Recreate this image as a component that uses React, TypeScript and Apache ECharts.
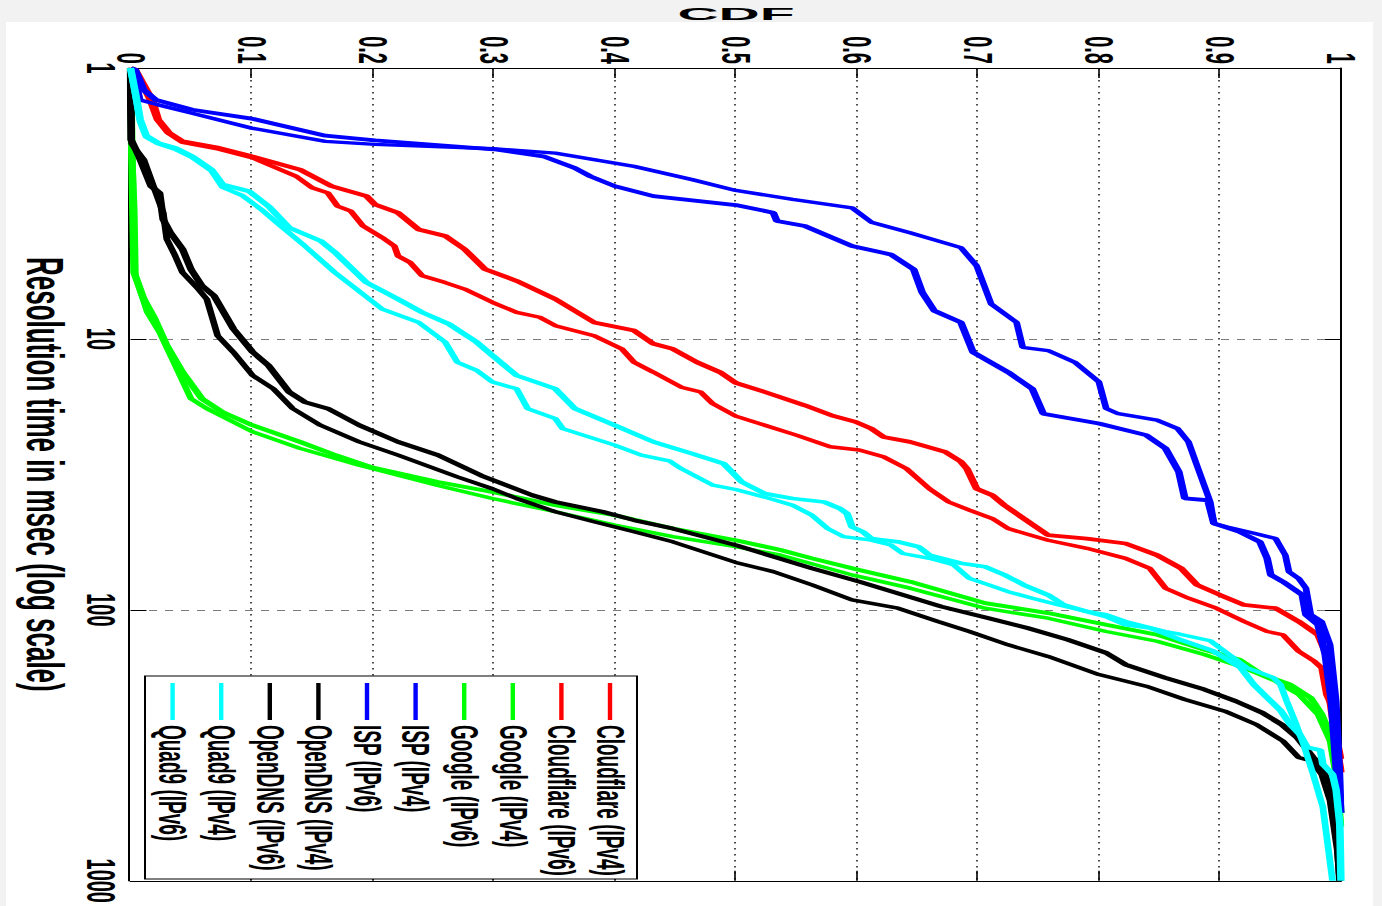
import React, { useEffect, useRef } from 'react';
import * as echarts from 'echarts';

// ---------- data (x = resolution time in msec, y = CDF) ----------
const seriesNames = [
  'Cloudflare (IPv4)', 'Cloudflare (IPv6)', 'Google (IPv4)', 'Google (IPv6)',
  'ISP (IPv4)', 'ISP (IPv6)', 'OpenDNS (IPv4)', 'OpenDNS (IPv6)', 'Quad9 (IPv4)', 'Quad9 (IPv6)',
];
const seriesColors = [
  '#ff0000', '#ff0000', '#00ff00', '#00ff00', '#0000ff', '#0000ff', '#000000', '#000000', '#00ffff', '#00ffff',
];
const timeTickLabels = ['1', '10', '100', '1000'];
const cdfTickLabels = ['0', '0.1', '0.2', '0.3', '0.4', '0.5', '0.6', '0.7', '0.8', '0.9', '1'];
const xTitle = 'Resolution time in msec (log scale)';
const yTitle = 'CDF';

const cloudflareV4 = [[1,0],[1.016,0.004],[1.312,0.018],[1.552,0.023],[1.738,0.032],[1.866,0.043],[1.972,0.073],[2.118,0.1],[2.371,0.14],[2.729,0.166],[2.972,0.195],[3.192,0.202],[3.42,0.221],[3.945,0.238],[4.169,0.26],[4.667,0.276],[5.534,0.293],[6.109,0.319],[7.129,0.351],[8.69,0.383],[9.311,0.416],[10.42,0.432],[10.89,0.448],[12.19,0.468],[13.27,0.487],[14.52,0.5],[15.7,0.524],[17.58,0.557],[19.14,0.579],[20.23,0.599],[21.43,0.612],[23.01,0.622],[23.99,0.644],[26.12,0.673],[28.38,0.686],[30.13,0.691],[35.73,0.699],[37.76,0.712],[41.11,0.722],[46.03,0.738],[49.43,0.748],[52.97,0.758],[54.58,0.79],[56.89,0.822],[62.81,0.848],[70.31,0.868],[80.91,0.881],[88.1,0.9],[95.94,0.92],[98.63,0.946],[110.4,0.965],[123.6,0.981],[146.2,0.988],[217.3,0.991],[331.9,0.997],[398,1]];
const cloudflareV6 = [[1,0],[1.023,0.004],[1.312,0.016],[1.552,0.022],[1.738,0.031],[1.884,0.043],[1.995,0.073],[2.148,0.101],[2.512,0.137],[2.767,0.15],[2.891,0.163],[3.236,0.171],[3.373,0.182],[3.828,0.192],[4.227,0.208],[4.539,0.218],[4.943,0.221],[5.224,0.231],[5.848,0.241],[6.194,0.26],[6.546,0.276],[7.328,0.299],[7.98,0.319],[8.318,0.338],[8.933,0.351],[9.727,0.383],[10.89,0.406],[12.19,0.416],[13.27,0.432],[15.07,0.455],[15.7,0.471],[17.34,0.481],[19.28,0.5],[22.65,0.55],[25,0.578],[25.7,0.602],[27.23,0.622],[30.13,0.641],[35.73,0.66],[40,0.676],[42.85,0.693],[46.03,0.712],[50.12,0.725],[55.34,0.758],[59.29,0.79],[64.57,0.822],[70.31,0.842],[83.18,0.855],[90.57,0.874],[98.63,0.897],[110.4,0.92],[120.2,0.939],[123.6,0.952],[142.2,0.965],[154.9,0.978],[163.7,0.984],[205.6,0.988],[230.1,0.993],[288.4,0.996],[354.8,1]];
const googleV4 = [[1,0],[1.905,0.001],[3.311,0.002],[5.689,0.003],[7.129,0.011],[8.433,0.02],[10.59,0.03],[13.27,0.043],[16.63,0.059],[18.62,0.076],[20.84,0.101],[23.99,0.14],[26.92,0.17],[29.85,0.2],[33.73,0.254],[36.73,0.299],[41.11,0.351],[44.77,0.4],[50.12,0.448],[55.34,0.5],[60.12,0.537],[64.57,0.563],[71.29,0.602],[78.7,0.644],[94.41,0.706],[102.8,0.758],[113.5,0.806],[123.6,0.848],[140.3,0.887],[152.8,0.916],[173.4,0.935],[188.8,0.958],[211.3,0.975],[243.2,0.984],[288.4,0.991],[381.9,0.996],[562.3,1]];
const googleV6 = [[1,0],[1.995,0.001],[3.327,0.003],[5.848,0.004],[7.98,0.014],[9.441,0.024],[12.53,0.037],[16.63,0.05],[18.07,0.063],[22.03,0.101],[25.35,0.14],[29.24,0.189],[34.75,0.254],[38.82,0.299],[43.45,0.351],[48.64,0.4],[53.7,0.448],[58.48,0.5],[62.81,0.537],[74.3,0.596],[83.18,0.644],[98.63,0.706],[107.4,0.758],[120.2,0.806],[130.6,0.848],[146.2,0.887],[163.7,0.92],[183.2,0.946],[205.1,0.965],[243.2,0.981],[304.8,0.991],[439.5,0.997],[631,1]];
const ispV4 = [[1,0],[1.016,0.004],[1.205,0.011],[1.312,0.021],[1.426,0.051],[1.538,0.1],[1.778,0.161],[1.849,0.202],[1.995,0.3],[2.118,0.341],[2.339,0.367],[2.512,0.38],[2.729,0.4],[2.972,0.432],[3.206,0.5],[3.42,0.531],[3.673,0.534],[3.828,0.557],[4.539,0.596],[4.875,0.628],[5.534,0.647],[6.73,0.654],[7.87,0.664],[8.69,0.686],[11.19,0.696],[13.27,0.725],[15.28,0.745],[18.88,0.754],[20.51,0.8],[22.65,0.839],[25.35,0.855],[30.9,0.866],[38.8,0.871],[39.4,0.89],[48,0.895],[51.5,0.916],[56.1,0.933],[64.6,0.939],[74.3,0.942],[78.7,0.952],[88.1,0.968],[104.2,0.971],[113.5,0.981],[146.2,0.987],[217.3,0.992],[382,0.996],[501,0.999],[562,1]];
const ispV6 = [[1,0],[1.148,0.005],[1.312,0.008],[1.368,0.023],[1.469,0.051],[1.667,0.1],[1.866,0.161],[1.914,0.202],[1.986,0.3],[2.061,0.351],[2.307,0.416],[2.582,0.464],[2.831,0.5],[3.055,0.547],[3.281,0.596],[3.707,0.612],[4.055,0.644],[4.603,0.686],[5.37,0.699],[7.43,0.711],[8.69,0.732],[10.74,0.737],[11.04,0.758],[12.19,0.78],[14.42,0.8],[18.07,0.806],[18.88,0.816],[19.95,0.848],[21.43,0.865],[23.99,0.874],[30.13,0.882],[40,0.892],[47.97,0.895],[49.43,0.906],[52.24,0.929],[54.58,0.946],[62.81,0.954],[72.28,0.957],[76.56,0.965],[83.18,0.971],[104.2,0.975],[110.4,0.984],[134.6,0.991],[217.3,0.996],[398,0.999],[537,1]];
const opendnsV4 = [[1,0],[1.841,0.0005],[2.118,0.007],[2.729,0.017],[2.891,0.024],[3.622,0.027],[4.055,0.033],[4.667,0.043],[5.534,0.05],[6.368,0.059],[6.934,0.069],[9.183,0.085],[11.19,0.101],[12.53,0.114],[15.7,0.131],[17.1,0.144],[18.07,0.163],[20.84,0.189],[23.99,0.221],[26.85,0.254],[31.99,0.29],[37.76,0.332],[39.99,0.351],[43.45,0.39],[46.67,0.416],[50.12,0.448],[57.68,0.5],[63.68,0.531],[70.31,0.563],[78.7,0.602],[86.9,0.634],[97.27,0.67],[107.4,0.709],[116.7,0.741],[128.8,0.774],[144.2,0.806],[159.2,0.822],[178.2,0.855],[196.8,0.887],[217.3,0.913],[239.9,0.935],[264.9,0.951],[296.5,0.964],[350.8,0.977],[381.9,0.984],[452.9,0.991],[583.4,0.996],[1000,0.999]];
const opendnsV6 = [[1,0],[1.905,0.001],[2.178,0.011],[2.812,0.02],[3.42,0.027],[4.285,0.03],[4.943,0.037],[5.689,0.043],[6.546,0.056],[7.129,0.063],[9.727,0.072],[11.19,0.085],[13.65,0.101],[15.28,0.118],[18.07,0.134],[20.84,0.157],[23.99,0.189],[26.85,0.221],[32.28,0.27],[35.73,0.299],[38.82,0.319],[43.45,0.351],[47.32,0.383],[51.52,0.416],[56.1,0.448],[66.83,0.5],[72.28,0.531],[80.91,0.563],[91.83,0.596],[98.63,0.634],[110.4,0.667],[120.2,0.693],[134.6,0.725],[148.6,0.758],[173.4,0.8],[191.4,0.839],[214.3,0.871],[236.6,0.904],[264.9,0.93],[304.8,0.952],[350.8,0.965],[360.6,0.975],[404.6,0.984],[507,0.991],[774.5,0.997],[1000,0.999]];
const quad9V4 = [[1,0],[1.23,0.004],[1.549,0.008],[1.778,0.013],[1.892,0.023],[1.972,0.037],[2.118,0.051],[2.371,0.067],[2.692,0.076],[2.851,0.098],[3.236,0.114],[3.882,0.131],[4.345,0.157],[4.797,0.169],[6.194,0.195],[7.129,0.221],[7.98,0.241],[8.81,0.263],[10.28,0.286],[11.51,0.299],[13.65,0.319],[15.28,0.351],[18.07,0.367],[20.84,0.4],[23.99,0.432],[26.49,0.464],[28.84,0.49],[33.73,0.505],[37.24,0.524],[38.82,0.547],[39.99,0.573],[42.27,0.586],[44.16,0.592],[49.43,0.596],[51.52,0.605],[54.58,0.612],[56.1,0.634],[58.48,0.651],[62.81,0.66],[67.3,0.686],[69.34,0.706],[74.3,0.722],[80.91,0.738],[88.1,0.758],[95.94,0.771],[101.4,0.79],[105.9,0.806],[113.5,0.822],[116.7,0.842],[128.8,0.867],[141.6,0.894],[163.3,0.917],[188.8,0.928],[210.9,0.939],[235,0.95],[264.9,0.958],[288.4,0.966],[321.4,0.972],[329.6,0.983],[371.5,0.985],[404.6,0.993],[462.4,0.996],[616.6,0.999],[1000,1]];
const quad9V6 = [[1,0],[1.259,0.004],[1.585,0.008],[1.799,0.013],[1.905,0.023],[1.995,0.037],[2.138,0.051],[2.399,0.067],[2.754,0.076],[2.951,0.092],[3.327,0.108],[3.828,0.124],[4.539,0.144],[5.689,0.169],[7.762,0.208],[8.69,0.238],[10.28,0.26],[12.19,0.27],[13.06,0.286],[14.42,0.299],[15.28,0.319],[18.07,0.328],[19.68,0.351],[21.43,0.357],[24.66,0.4],[26.85,0.422],[28.18,0.445],[30.13,0.455],[34.67,0.481],[35.97,0.5],[38.37,0.524],[41.11,0.547],[44.77,0.563],[50.12,0.576],[53.7,0.589],[55.34,0.612],[57.68,0.628],[61.94,0.638],[64.57,0.66],[68.23,0.68],[76.56,0.693],[80.91,0.709],[85.7,0.725],[90.57,0.745],[95.94,0.767],[101.4,0.79],[104.2,0.806],[110.4,0.822],[120.2,0.855],[123,0.867],[130,0.892],[163.3,0.922],[177.8,0.944],[188.8,0.95],[216.3,0.955],[264.9,0.963],[313.3,0.969],[404.6,0.977],[534.6,0.985],[1000,0.993]];

const seriesData = [cloudflareV4, cloudflareV6, googleV4, googleV6, ispV4, ispV6, opendnsV4, opendnsV6, quad9V4, quad9V6];
const seriesWidths = [3.8, 3.4, 3.8, 3.4, 3.8, 3.4, 3.8, 3.4, 3.8, 3.4];

const FONT = "'Liberation Sans', Arial, Helvetica, sans-serif";

// Chart is laid out in gnuplot's native orientation (906 x 691), then the
// container is rotated 90deg clockwise and stretched horizontally, as in the reference.
const CW = 906;
const CH = 691;

function buildOption() {
  const axisLine = { show: true, onZero: false, lineStyle: { color: '#000', width: 1 } };
  return {
    animation: false,
    backgroundColor: 'transparent',
    textStyle: { fontFamily: FONT },
    grid: { left: 68, right: 22, top: 20.5, bottom: 65.25, containLabel: false },
    xAxis: [
      {
        type: 'log', logBase: 10, min: 1, max: 1000, position: 'bottom',
        name: xTitle, nameLocation: 'middle', nameGap: 28,
        nameTextStyle: { fontSize: 26, fontWeight: 'bold', color: '#000', fontFamily: FONT },
        axisLine,
        axisTick: { show: true, inside: true, length: 8, lineStyle: { color: '#000', width: 1 } },
        axisLabel: {
          show: true, margin: 5, fontSize: 20, fontWeight: 'bold', color: '#000', fontFamily: FONT,
          formatter: (v: number) => timeTickLabels[Math.round(Math.log10(v))] ?? '',
        },
        splitLine: { show: true, lineStyle: { color: '#7a7a7a', width: 1, type: [4, 4] } },
      },
      {
        type: 'log', logBase: 10, min: 1, max: 1000, position: 'top',
        axisLine,
        axisTick: { show: true, inside: true, length: 8, lineStyle: { color: '#000', width: 1 } },
        axisLabel: { show: false },
        splitLine: { show: false },
      },
    ],
    yAxis: [
      {
        type: 'value', min: 0, max: 1, interval: 0.1, position: 'left',
        axisLine,
        axisTick: { show: true, inside: true, length: 10, lineStyle: { color: '#000', width: 0.8 } },
        axisLabel: {
          show: true, margin: 4, fontSize: 20, fontWeight: 'bold', color: '#000', fontFamily: FONT,
          formatter: (v: number) => cdfTickLabels[Math.round(v * 10)] ?? '',
        },
        splitLine: { show: true, lineStyle: { color: '#000', width: 0.7, type: [1.5, 4.5] } },
      },
      {
        type: 'value', min: 0, max: 1, interval: 0.1, position: 'right',
        axisLine,
        axisTick: { show: true, inside: true, length: 10, lineStyle: { color: '#000', width: 0.8 } },
        axisLabel: { show: false },
        splitLine: { show: false },
      },
    ],
    legend: {
      orient: 'vertical', left: 676, top: 372.5, padding: [4, 3, 4.3, 7],
      itemGap: 5.3, itemWidth: 37, itemHeight: 2.2, icon: 'rect',
      backgroundColor: '#fff', borderColor: '#000', borderWidth: 1, borderRadius: 0,
      selectedMode: false,
      textStyle: { fontSize: 19, fontWeight: 'bold', color: '#000', lineHeight: 19, fontFamily: FONT },
      data: seriesNames,
    },
    graphic: [
      {
        type: 'text', x: 14, y: 323, rotation: Math.PI / 2, scaleX: 1.75,
        style: { text: yTitle, fontSize: 16.3, fontWeight: 'bold', fill: '#000', align: 'center', verticalAlign: 'middle', fontFamily: FONT },
      },
    ],
    series: seriesData.map((d, i) => ({
      name: seriesNames[i],
      type: 'line',
      data: d,
      xAxisIndex: 0,
      yAxisIndex: 0,
      showSymbol: false,
      symbol: 'none',
      lineStyle: { width: seriesWidths[i], color: seriesColors[i] },
      itemStyle: { color: seriesColors[i] },
    })),
  };
}

export default function App() {
  const ref = useRef<HTMLDivElement>(null);
  useEffect(() => {
    document.body.style.margin = '0';
    document.body.style.overflow = 'hidden';
    const chart = echarts.init(ref.current as HTMLDivElement, null, { renderer: 'svg', width: CW, height: CH });
    chart.setOption(buildOption() as any);
    return () => chart.dispose();
  }, []);
  return (
    <div style={{ position: 'relative', width: 1382, height: 906, overflow: 'hidden', background: '#f2f2f2' }}>
      <div style={{ position: 'absolute', left: 6, top: 22, width: 1367, height: 884, background: '#ffffff' }} />
      <div
        ref={ref}
        style={{
          position: 'absolute', left: 0, top: 0, width: CW, height: CH,
          transformOrigin: '0 0',
          transform: 'translate(1382px, 0px) scale(2, 1) rotate(90deg)',
        }}
      />
    </div>
  );
}
